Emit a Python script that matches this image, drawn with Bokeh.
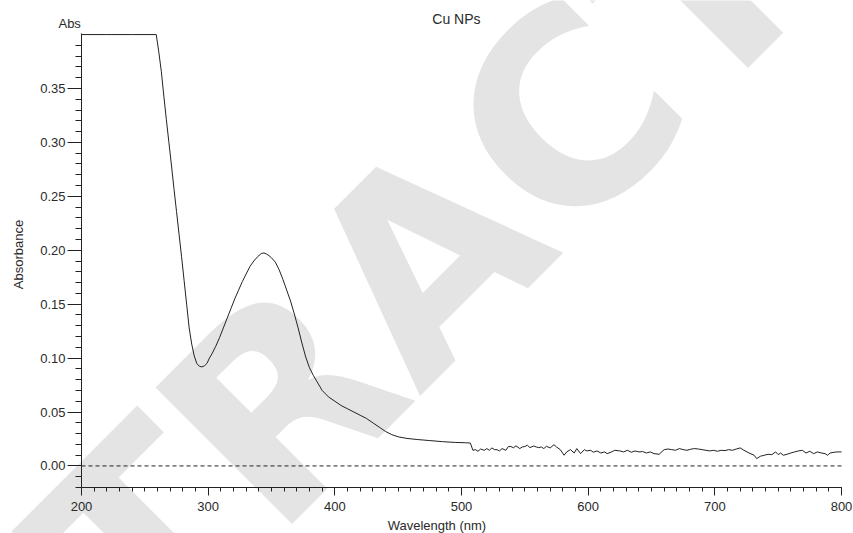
from bokeh.plotting import figure
from bokeh.models import Range1d, FixedTicker, PrintfTickFormatter, Label
from bokeh.embed import file_html
from bokeh.resources import INLINE

# ---- data (wavelength in nm, absorbance) ----
wavelength = [
    200, 220, 240, 259, 261, 263, 265, 267, 269, 271, 273, 275, 277, 279, 281,
    283, 285, 287, 289, 291, 293, 295, 297, 299, 301, 303, 306, 309, 312, 315,
    318, 321, 324, 327, 330, 333, 336, 339, 342, 344, 346, 348, 350, 353, 356,
    359, 362, 365, 368, 371, 374, 377, 380, 383, 386, 390, 395, 400, 405, 410,
    415, 420, 425, 430, 435, 440, 445, 450, 457, 465, 475, 485, 495, 503, 507,
    509, 511, 513, 515, 518, 520, 522, 524, 526, 528, 530, 532, 535, 537, 539,
    541, 543, 546, 548, 550, 552, 554, 557, 559, 561, 563, 565, 567, 570, 573,
    575, 578, 581, 583, 586, 589, 591, 594, 597, 599, 602, 604, 607, 610, 613,
    615, 618, 621, 625, 628, 631, 634, 637, 640, 643, 646, 649, 652, 656, 660,
    663, 666, 669, 672, 675, 678, 681, 684, 687, 690, 693, 696, 699, 702, 705,
    708, 711, 714, 717, 720, 723, 727, 731, 733, 736, 739, 742, 745, 748, 750,
    752, 754, 757, 760, 763, 766, 769, 772, 775, 778, 781, 784, 787, 789, 791,
    794, 797, 800,
]
absorbance = [
    0.400, 0.400, 0.400, 0.400, 0.384, 0.366, 0.343, 0.321, 0.300, 0.279, 0.257, 0.236, 0.215, 0.194, 0.172,
    0.150, 0.128, 0.113, 0.102, 0.095, 0.0925, 0.0918, 0.0928, 0.0950, 0.100, 0.104, 0.111, 0.119, 0.128, 0.137,
    0.146, 0.155, 0.163, 0.171, 0.178, 0.185, 0.190, 0.194, 0.197, 0.1975, 0.1965, 0.195, 0.193, 0.189, 0.182,
    0.173, 0.163, 0.153, 0.141, 0.128, 0.114, 0.101, 0.091, 0.084, 0.078, 0.070, 0.064, 0.060, 0.056, 0.053,
    0.050, 0.047, 0.044, 0.040, 0.036, 0.032, 0.029, 0.027, 0.0255, 0.0245, 0.0235, 0.0225, 0.0218, 0.0215, 0.0212,
    0.0145, 0.0151, 0.0136, 0.0157, 0.0145, 0.0161, 0.0145, 0.0167, 0.0151, 0.0151, 0.0139, 0.0161, 0.0145, 0.0180, 0.0180,
    0.0168, 0.0186, 0.0161, 0.0176, 0.0180, 0.0192, 0.0170, 0.0185, 0.0176, 0.0170, 0.0176, 0.0161, 0.0182, 0.0167, 0.0197,
    0.0176, 0.0151, 0.0099, 0.0130, 0.0151, 0.0120, 0.0161, 0.0114, 0.0151, 0.0139, 0.0145, 0.0127, 0.0139, 0.0120, 0.0130,
    0.0114, 0.0127, 0.0145, 0.0139, 0.0130, 0.0145, 0.0127, 0.0139, 0.0130, 0.0133, 0.0120, 0.0130, 0.0114, 0.0108, 0.0151,
    0.0157, 0.0151, 0.0145, 0.0161, 0.0151, 0.0145, 0.0155, 0.0161, 0.0157, 0.0151, 0.0145, 0.0139, 0.0145, 0.0136, 0.0145,
    0.0142, 0.0151, 0.0145, 0.0157, 0.0167, 0.0145, 0.0120, 0.0099, 0.0068, 0.0090, 0.0099, 0.0108, 0.0105, 0.0130, 0.0105,
    0.0120, 0.0099, 0.0108, 0.0120, 0.0130, 0.0139, 0.0145, 0.0120, 0.0136, 0.0114, 0.0130, 0.0120, 0.0114, 0.0099, 0.0120,
    0.0127, 0.0130, 0.0130,
]

# ---- axes: data extent and ticks ----
x_bounds = (200, 800)
y_bounds = (-0.02, 0.401)
x_major_ticks = [200, 300, 400, 500, 600, 700, 800]
x_minor_ticks = list(range(200, 801, 10))
y_major_ticks = [0.00, 0.05, 0.10, 0.15, 0.20, 0.25, 0.30, 0.35]
y_minor_ticks = [round(-0.02 + 0.01 * i, 2) for i in range(42)]
zero_line_x = [x_major_ticks[0], x_major_ticks[-1]]
zero_line_y = [0.0, 0.0]

title_text = "Cu NPs"
x_label = "Wavelength (nm)"
y_label = "Absorbance"
unit_label = "Abs"
watermark = "TRACT"

FONT = "Liberation Sans"
TXT = "#2a2a2a"
INK = "#222222"

# The frame covers the whole canvas; the axes are pinned at the data edges
# (x axis at y=-0.02, y axis at x=200), so the plot area sits at
# px 81..841 horizontally and px 33..487 vertically.
p = figure(width=853, height=533, output_backend="svg", toolbar_location=None,
           x_range=Range1d(136.05, 809.47), y_range=Range1d(-0.062655, 0.43160),
           min_border=0)
p.title.visible = False
p.xgrid.visible = False
p.ygrid.visible = False
p.outline_line_color = None
p.background_fill_color = "white"
p.border_fill_color = "white"

# watermark
p.add_layout(Label(x=200.4, y=-0.128, text=watermark, angle=45, angle_units="deg",
                   text_font="DejaVu Sans", text_font_style="bold", text_font_size="265px",
                   text_color="#e4e4e4", text_align="left", text_baseline="alphabetic",
                   level="underlay"))

# zero line
p.line(zero_line_x, zero_line_y, line_color=INK, line_width=1, line_dash="4 3")

# spectrum
p.line(wavelength, absorbance, line_color=INK, line_width=1)

# axes
xa = p.xaxis[0]
xa.fixed_location = y_bounds[0]
xa.bounds = x_bounds
xa.ticker = FixedTicker(ticks=x_major_ticks, minor_ticks=x_minor_ticks)
xa.major_tick_in = 0
xa.major_tick_out = 8
xa.minor_tick_in = 0
xa.minor_tick_out = 4
xa.major_label_standoff = 6
xa.axis_line_color = INK
xa.major_tick_line_color = INK
xa.minor_tick_line_color = INK
xa.major_label_text_font = FONT
xa.major_label_text_font_size = "13px"
xa.major_label_text_color = TXT

ya = p.yaxis[0]
ya.fixed_location = x_bounds[0]
ya.bounds = y_bounds
ya.ticker = FixedTicker(ticks=y_major_ticks, minor_ticks=y_minor_ticks)
ya.formatter = PrintfTickFormatter(format="%.2f")
ya.major_tick_in = 0
ya.major_tick_out = 14
ya.minor_tick_in = 0
ya.minor_tick_out = 6
ya.major_label_standoff = 2
ya.axis_line_color = INK
ya.major_tick_line_color = INK
ya.minor_tick_line_color = INK
ya.major_label_text_font = FONT
ya.major_label_text_font_size = "13px"
ya.major_label_text_color = TXT

# texts
p.add_layout(Label(x=496, y=0.41463, text=title_text, text_align="center",
                   text_baseline="middle", text_font=FONT, text_font_size="14px",
                   text_color=TXT))
p.add_layout(Label(x=199.5, y=0.41027, text=unit_label, text_align="right",
                   text_baseline="middle", text_font=FONT, text_font_size="13px",
                   text_color=TXT))
p.add_layout(Label(x=480.6, y=-0.05525, text=x_label, text_align="center",
                   text_baseline="middle", text_font=FONT, text_font_size="13px",
                   text_color=TXT))
p.add_layout(Label(x=150.3, y=0.1961, text=y_label, angle=90, angle_units="deg",
                   text_align="center", text_baseline="middle", text_font=FONT,
                   text_font_size="13px", text_color=TXT))

open("out.html", "w").write(file_html(p, INLINE))
